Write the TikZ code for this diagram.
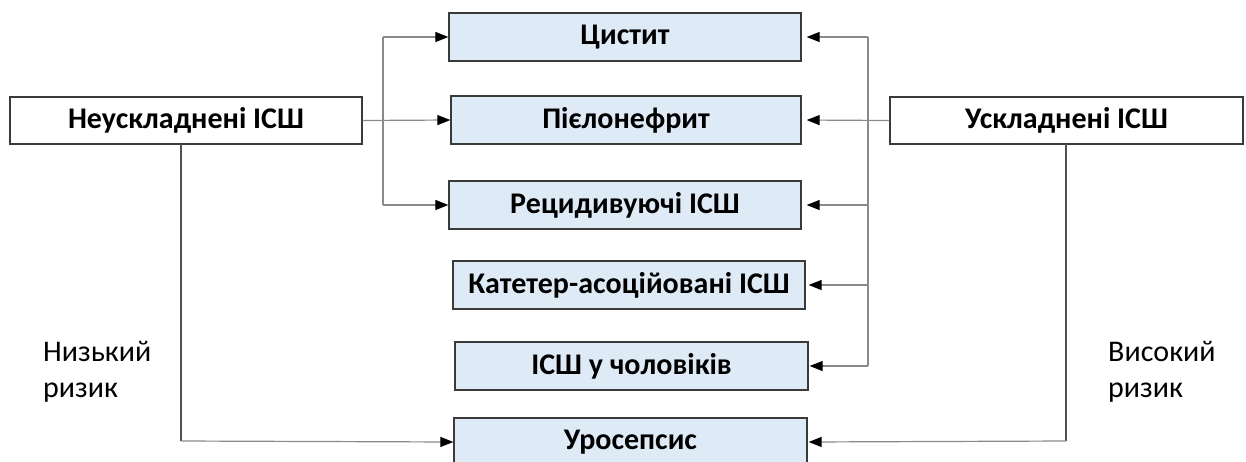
\documentclass[tikz,border=0pt]{standalone}
\usepackage{fontspec}
\setmainfont{Carlito}
\usetikzlibrary{arrows.meta}
\definecolor{boxfill}{HTML}{DEEBF7}
\definecolor{boxline}{HTML}{3A3A3A}
\definecolor{connc}{HTML}{8A8A8A}
\definecolor{connd}{HTML}{505050}
\tikzset{
  whitebox/.style={draw=boxline, line width=1.3pt, fill=white, minimum width=352pt, minimum height=47pt, inner sep=0pt, text=black, font=\fontsize{30}{34}\selectfont\bfseries},
  bluebox/.style={draw=boxline, line width=1.3pt, fill=boxfill, minimum width=352pt, minimum height=48pt, inner sep=0pt, text=black, font=\fontsize{30}{34}\selectfont\bfseries},
  conn/.style={draw=connc, line width=1.2pt},
  conndark/.style={draw=connd, line width=1.2pt},
  arr/.style={conn, -{Triangle[length=13pt,width=10pt,color=black]}},
  risk/.style={inner sep=0pt, anchor=north west, align=left, text=black, font=\fontsize{30}{36}\selectfont}
}
\begin{document}
\begin{tikzpicture}[x=1pt,y=-1pt]
\useasboundingbox (0,0) rectangle (1246,461);
% main boxes
\node[whitebox] (neu) at (186,120.5) {Неускладнені ІСШ};
\node[whitebox, minimum width=353pt] (usk) at (1066.5,120.5) {Ускладнені ІСШ};
% central boxes
\node[bluebox] (cys) at (625,37) {Цистит};
\node[bluebox, minimum width=350pt] (pie) at (626,120) {Пієлонефрит};
\node[bluebox] (rec) at (625,205) {Рецидивуючі ІСШ};
\node[bluebox] (kat) at (629,285) {Катетер-асоційовані ІСШ};
\node[bluebox, minimum width=353pt] (chol) at (631.5,366) {ІСШ у чоловіків};
\node[bluebox, minimum width=353pt] (uro) at (630.5,442) {Уросепсис};
% risk labels
\node[risk] (low) at (43,341) {Низький\\ризик};
\node[risk] (high) at (1108,341) {Високий\\ризик};
% left fan
\coordinate (Lt) at (383,37);
\coordinate (Lb) at (383,205);
\draw[conn] (Lt) -- (Lb);
\draw[arr] (Lt) -- (cys.west);
\draw[arr] (neu.east) -- (pie.west);
\draw[arr] (Lb) -- (rec.west);
% right fan
\coordinate (Rt) at (868,37);
\coordinate (Rb) at (868,366);
\draw[conn] (Rt) -- (Rb);
\draw[arr, shorten >=5pt] (Rt) -- (cys.east);
\draw[arr, shorten >=5pt] (usk.west) -- (pie.east);
\draw[arr, shorten >=5pt] (868,205) coordinate (Rr) -- (rec.east);
\draw[arr, shorten >=3pt] (Rt |- kat.east) coordinate (Rk) -- (kat.east);
\draw[arr, shorten >=1pt] (Rb) -- (chol.east);
% risk paths to urosepsis
\coordinate (Ls) at (181,144);
\coordinate (Rs) at (1066,144);
\draw[conndark] (Ls) -- (181,441) coordinate (Lc);
\draw[arr] (Lc) -- (uro.west);
\draw[conndark] (Rs) -- (1066,441) coordinate (Rc);
\draw[arr, shorten >=1pt] (Rc) -- (uro.east);
\end{tikzpicture}
\end{document}
